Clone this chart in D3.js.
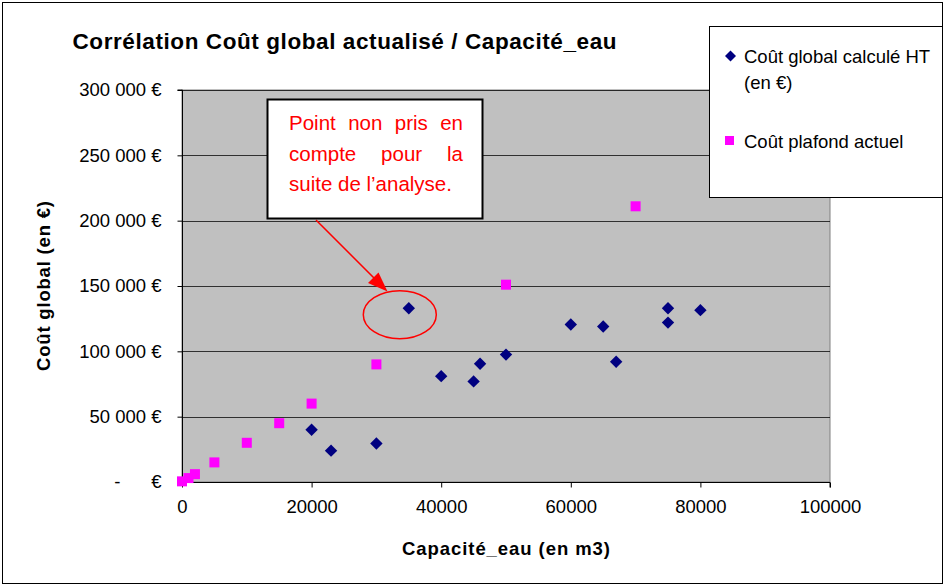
<!DOCTYPE html>
<html>
<head>
<meta charset="utf-8">
<script src="https://cdn.jsdelivr.net/npm/d3@7/dist/d3.min.js"></script>
<style>
  html, body { margin: 0; padding: 0; background: #fff; }
  text { font-family: "Liberation Sans", Arial, sans-serif; }
</style>
</head>
<body>
<svg id="chart" width="944" height="586"></svg>
<script>
// ---- data ----
const globalX = [35000, 20000, 23000, 30000, 40000, 45000, 46000, 50000, 60000, 65000, 67000, 75000, 75000, 80000];
const globalY = [133000, 40000, 24000, 29500, 81000, 77000, 90500, 97500, 120500, 119000, 92000, 133000, 122000, 131500];
const plafondX = [0, 1000, 2000, 5000, 10000, 15000, 20000, 30000, 50000, 70000];
const plafondY = [500, 3000, 6000, 15000, 30000, 45000, 60000, 90000, 151000, 211000];
const xTicks = [0, 20000, 40000, 60000, 80000, 100000];
const yTicks = [0, 50000, 100000, 150000, 200000, 250000, 300000];
const yTickLabels = ["-\u00A0\u00A0\u00A0\u00A0\u00A0\u00A0€", "50 000 €", "100 000 €", "150 000 €", "200 000 €", "250 000 €", "300 000 €"];
const seriesNames = ["Coût global calculé HT", "(en €)", "Coût plafond actuel"];
const titleText = "Corrélation Coût global actualisé / Capacité_eau";
const xTitle = "Capacité_eau (en m3)";
const yTitle = "Coût global (en €)";
const noteLines = ["Point non pris en", "compte pour la", "suite de l’analyse."];
const outlier = {x: 35000, y: 133000};

const svg = d3.select("#chart");
const W = 944, H = 586;
const L = 182, R = 830, T = 90, B = 482;

svg.append("rect").attr("x", 0).attr("y", 0).attr("width", W).attr("height", H).attr("fill", "#fff");
svg.append("rect").attr("x", 2.5).attr("y", 2.5).attr("width", 940).attr("height", 581)
  .attr("fill", "none").attr("stroke", "#000").attr("stroke-width", 1);

const x = d3.scaleLinear().domain([0, 100000]).range([L, R]);
const y = d3.scaleLinear().domain([0, 300000]).range([B, T]);

// plot area
svg.append("rect").attr("x", L).attr("y", T).attr("width", R - L).attr("height", B - T)
  .attr("fill", "#C0C0C0").attr("stroke", "#808080").attr("stroke-width", 1);

// gridlines
svg.append("g").selectAll("line").data(yTicks.filter(d => d > 0)).join("line")
  .attr("x1", L).attr("x2", R)
  .attr("y1", d => Math.round(y(d)) + 0.5).attr("y2", d => Math.round(y(d)) + 0.5)
  .attr("stroke", "#000").attr("stroke-width", 1).attr("opacity", 0.75);

// axes
const fs = 18.5;
const yAxis = svg.append("g").attr("transform", `translate(${L + 0.5},0)`)
  .call(d3.axisLeft(y).tickValues(yTicks).tickSize(5).tickPadding(16)
    .tickFormat((d, i) => yTickLabels[i]));
const xAxis = svg.append("g").attr("transform", `translate(0,${B + 0.5})`)
  .call(d3.axisBottom(x).tickValues(xTicks).tickSize(5).tickPadding(12)
    .tickFormat(d => String(d)));
[yAxis, xAxis].forEach(a => {
  a.select(".domain").attr("stroke", "#000");
  a.selectAll(".tick line").attr("stroke", "#000");
  a.selectAll(".tick text").attr("fill", "#000").attr("font-size", fs)
    .attr("font-family", "Liberation Sans, Arial, sans-serif");
});
yAxis.select(".domain").attr("d", `M-5,${T}H0V${B}`);
xAxis.select(".domain").attr("d", `M${L},0H${R}V5`);

// series
const globalPts = globalX.map((v, i) => ({x: v, y: globalY[i]}));
const plafondPts = plafondX.map((v, i) => ({x: v, y: plafondY[i]}));
const sq = 10, dia = 6.2;
svg.append("g").selectAll("rect").data(plafondPts).join("rect")
  .attr("x", d => x(d.x) - sq / 2).attr("y", d => y(d.y) - sq / 2)
  .attr("width", sq).attr("height", sq).attr("fill", "#FF00FF");
svg.append("g").selectAll("path").data(globalPts).join("path")
  .attr("transform", d => `translate(${x(d.x)},${y(d.y)})`)
  .attr("d", `M0,${-dia}L${dia},0L0,${dia}L${-dia},0Z`).attr("fill", "#000080");

// title
svg.append("text").attr("x", 72.5).attr("y", 48.5).attr("font-size", 22.5).attr("font-weight", "bold")
  .attr("textLength", 544).attr("lengthAdjust", "spacing").text(titleText);

// axis titles
svg.append("text").attr("x", (L + R) / 2).attr("y", 555).attr("text-anchor", "middle")
  .attr("font-size", 18.5).attr("font-weight", "bold")
  .attr("textLength", 208).attr("lengthAdjust", "spacing").text(xTitle);
svg.append("text").attr("transform", `translate(50,${(T + B) / 2}) rotate(-90)`).attr("text-anchor", "middle")
  .attr("font-size", 18.5).attr("font-weight", "bold")
  .attr("textLength", 170).attr("lengthAdjust", "spacing").text(yTitle);

// annotation: ellipse + arrow + note box
const cx = x(outlier.x) - 9, cy = y(outlier.y) + 6.5;
svg.append("ellipse").attr("cx", cx).attr("cy", cy).attr("rx", 36.5).attr("ry", 24)
  .attr("fill", "none").attr("stroke", "#FF0000").attr("stroke-width", 1.5);

svg.append("line").attr("x1", 316).attr("y1", 220).attr("x2", 383).attr("y2", 287)
  .attr("stroke", "#FF0000").attr("stroke-width", 1.5);
svg.append("path").attr("d", "M387.5,291.5 L368,283 L378.5,272.5 Z").attr("fill", "#FF0000");

svg.append("rect").attr("x", 267.5).attr("y", 99.5).attr("width", 215).attr("height", 119)
  .attr("fill", "#fff").attr("stroke", "#000").attr("stroke-width", 2);
const noteL = 289, noteR = 463, noteFs = 20.5, noteBase = [130, 160.5, 191];
noteLines.forEach((line, li) => {
  const words = line.split(" ");
  if (li === noteLines.length - 1) {
    svg.append("text").attr("x", noteL).attr("y", noteBase[li]).attr("font-size", noteFs)
      .attr("fill", "#FF0000").text(line);
    return;
  }
  const nodes = words.map(w => svg.append("text").attr("y", noteBase[li]).attr("font-size", noteFs)
    .attr("fill", "#FF0000").text(w));
  const widths = nodes.map(n => n.node().getComputedTextLength());
  const total = d3.sum(widths);
  const gap = (noteR - noteL - total) / (words.length - 1);
  let cur = noteL;
  nodes.forEach((n, i) => { n.attr("x", cur); cur += widths[i] + gap; });
});

// legend
svg.append("rect").attr("x", 709.5).attr("y", 26.5).attr("width", 233).attr("height", 171)
  .attr("fill", "#fff").attr("stroke", "#000").attr("stroke-width", 1);
svg.append("path").attr("transform", "translate(730.5,56)")
  .attr("d", "M0,-5.5L5.5,0L0,5.5L-5.5,0Z").attr("fill", "#000080");
svg.append("text").attr("x", 744).attr("y", 62.5).attr("font-size", fs).text(seriesNames[0]);
svg.append("text").attr("x", 744).attr("y", 88.5).attr("font-size", fs).text(seriesNames[1]);
svg.append("rect").attr("x", 725).attr("y", 136).attr("width", 9).attr("height", 9).attr("fill", "#FF00FF");
svg.append("text").attr("x", 744).attr("y", 147.5).attr("font-size", fs).text(seriesNames[2]);
</script>
</body>
</html>
